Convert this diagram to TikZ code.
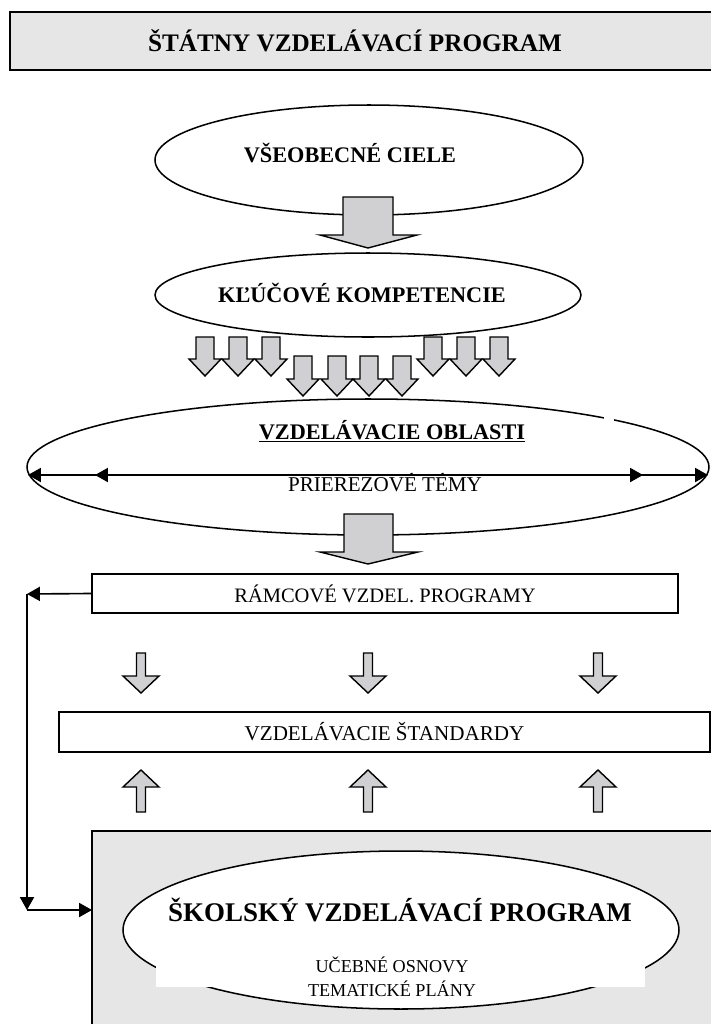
\documentclass[tikz,border=0pt]{standalone}
\usepackage{fontspec}
\setmainfont{Liberation Serif}
\usetikzlibrary{arrows.meta}
\definecolor{boxgray}{RGB}{230,230,230}
\definecolor{arrgray}{RGB}{208,207,210}
\begin{document}
\begin{tikzpicture}[x=0.03cm,y=-0.03cm,line width=1.3pt,
  conn/.style={line width=1.4pt,-{Triangle[length=11pt,width=12pt]}},
  barrow/.style={draw,fill=arrgray,line width=1.2pt},
  txt/.style={inner sep=0pt}]
\useasboundingbox (0,0) rectangle (711,1024);
% title bar
\fill[boxgray] (10,12) rectangle (711,70);
\draw (711,12) -- (10,12) -- (10,70) -- (711,70);
\node[txt,font=\fontsize{21.5}{26}\selectfont\bfseries] (svp) at (355,41) {ŠTÁTNY VZDELÁVACÍ PROGRAM};
% goals
\draw[fill=white] (369,160) ellipse [x radius=214, y radius=55];
\node[txt,font=\fontsize{19}{23}\selectfont\bfseries] (ciele) at (350,153) {VŠEOBECNÉ CIELE};
\draw[fill=white] (368,295) ellipse [x radius=213, y radius=42];
\node[txt,font=\fontsize{19}{23}\selectfont\bfseries] (komp) at (362,293) {KĽÚČOVÉ KOMPETENCIE};
\draw[barrow] (343,197) -- (393,197) -- (393,235) -- (417,235) -- (368,248) -- (320,235) -- (343,235) -- cycle;
% areas
\draw[fill=white] (368,467) ellipse [x radius=341, y radius=68];
\fill[white] (604,409) rectangle (614,424);
\foreach \x in {205,238,271,433,466,499}
  \draw[barrow] (\x-9,337) -- ++(18,0) -- ++(0,22) -- ++(7,0) -- (\x,376) -- (\x-16,359) -- ++(7,0) -- cycle;
\foreach \x in {303,337,369,402}
  \draw[barrow] (\x-9,356) -- ++(18,0) -- ++(0,23) -- ++(7,0) -- (\x,396) -- (\x-16,379) -- ++(7,0) -- cycle;
\node[txt,font=\fontsize{19}{23}\selectfont\bfseries] (obl) at (392,431) {\underline{VZDELÁVACIE OBLASTI}};
\coordinate (d1) at (28,475);
\coordinate (d2) at (95,475);
\coordinate (d3) at (643,475);
\coordinate (d4) at (708,475);
\draw[line width=1.4pt,{Triangle[length=11pt,width=12pt]}-{Triangle[length=11pt,width=12pt]}] (d1) -- (d4);
\draw[line width=1.4pt,{Triangle[length=11pt,width=12pt]}-{Triangle[length=11pt,width=12pt]}] (d2) -- (d3);
\node[txt,font=\fontsize{18}{22}\selectfont] (temy) at (385,483) {PRIEREZOVÉ TÉMY};
\draw[barrow] (344,514) -- (393,514) -- (393,552) -- (418,552) -- (368,564) -- (320,552) -- (344,552) -- cycle;
% frame programmes and standards
\node[draw,fill=white,minimum width=17.58cm,minimum height=1.17cm,inner sep=0pt,font=\fontsize{17.5}{21}\selectfont] (rvp) at (385,593.5) {RÁMCOVÉ VZDEL. PROGRAMY};
\node[draw,fill=white,minimum width=19.53cm,minimum height=1.2cm,inner sep=0pt,font=\fontsize{18}{22}\selectfont] (std) at (384.5,732) {VZDELÁVACIE ŠTANDARDY};
\foreach \x in {141,368,598} {
  \draw[barrow] (\x-4.5,653) -- ++(9,0) -- ++(0,23) -- ++(13.5,0) -- (\x,693) -- (\x-18,676) -- ++(13.5,0) -- cycle;
  \draw[barrow] (\x-4.5,812) -- ++(9,0) -- ++(0,-25) -- ++(13.5,0) -- (\x,770) -- (\x-18,787) -- ++(13.5,0) -- cycle;
}
% school programme
\fill[boxgray] (92,831) rectangle (711,1024);
\draw (711,831) -- (92,831) -- (92,1024);
\draw[fill=white] (401,930) ellipse [x radius=278, y radius=79];
\fill[white] (156,958) rectangle (645,987);
\node[txt,font=\fontsize{23}{27}\selectfont\bfseries] (svp2) at (400,910) {ŠKOLSKÝ VZDELÁVACÍ PROGRAM};
\node[txt,align=center,font=\fontsize{15.5}{20.5}\selectfont] (osn) at (392,977) {UČEBNÉ OSNOVY\\TEMATICKÉ PLÁNY};
% feedback
\coordinate (k1) at (27,594);
\coordinate (k2) at (27,910);
\coordinate (k3) at (92,910);
\draw[conn] (rvp.west) -- (k1);
\draw[conn] (k1) -- (k2);
\draw[conn] (k2) -- (k3);
\end{tikzpicture}
\end{document}
